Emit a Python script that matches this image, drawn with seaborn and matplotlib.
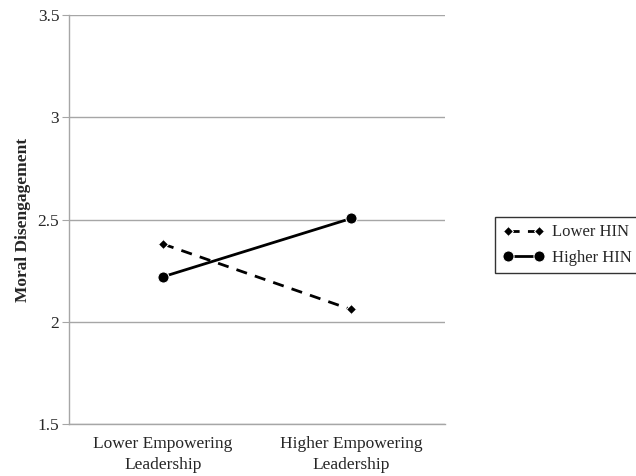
import pandas as pd
import matplotlib.pyplot as plt
import seaborn as sns

# Values
categories = ["Lower Empowering\nLeadership", "Higher Empowering\nLeadership"]
lower_hin = [2.38, 2.06]
higher_hin = [2.22, 2.505]
y_ticks = [1.5, 2, 2.5, 3, 3.5]
y_tick_labels = ["1.5", "2", "2.5", "3", "3.5"]

df = pd.DataFrame({
    "x": [0, 1, 0, 1],
    "value": lower_hin + higher_hin,
    "group": ["Lower HIN"] * 2 + ["Higher HIN"] * 2,
})

sns.set_style("white")
plt.rcParams["font.family"] = ["Liberation Serif", "DejaVu Serif"]

fig = plt.figure(figsize=(6.36, 4.76), dpi=100)
ax = fig.add_axes([69 / 636, 1 - 424 / 476, (445 - 69) / 636, (424 - 15) / 476])

grid_col = "#a6a6a6"
for y in y_ticks:
    ax.axhline(y, color=grid_col, lw=1, zorder=0)

sns.lineplot(data=df[df["group"] == "Lower HIN"], x="x", y="value", color="black",
             lw=2, marker="D", markersize=5, linestyle=(0, (4, 3)), ax=ax,
             label="Lower HIN", zorder=3)
sns.lineplot(data=df[df["group"] == "Higher HIN"], x="x", y="value", color="black",
             lw=2, marker="o", markersize=8, ax=ax, label="Higher HIN", zorder=3)

ax.set_xlim(-0.5, 1.5)
ax.set_ylim(1.5, 3.5)
ax.set_yticks(y_ticks)
ax.set_yticklabels(y_tick_labels, fontsize=12.5)
ax.set_xticks([0, 1])
ax.set_xticklabels(categories, fontsize=12.5, linespacing=1.4)
ax.set_xticks([-0.5, 0.5, 1.5], minor=True)
ax.tick_params(axis="x", which="major", length=0, pad=9)
ax.tick_params(axis="x", which="minor", length=5, color=grid_col, direction="out")
ax.tick_params(axis="y", length=5, color=grid_col, direction="out", left=True, pad=2)
ax.set_xlabel("")
ax.set_ylabel("Moral Disengagement", fontsize=12.5, fontweight="bold", labelpad=5)

for side in ["top", "right"]:
    ax.spines[side].set_visible(False)
for side in ["left", "bottom"]:
    ax.spines[side].set_color(grid_col)
    ax.spines[side].set_linewidth(1)

leg = ax.legend(loc="center left", bbox_to_anchor=(495 / 636, 1 - 245 / 476),
                bbox_transform=fig.transFigure, frameon=True, fancybox=False,
                fontsize=12, numpoints=2, handlelength=2.5, borderpad=0.45,
                labelspacing=0.55, handletextpad=0.5, borderaxespad=0)
leg.get_frame().set_edgecolor("black")
leg.get_frame().set_linewidth(1)

fig.savefig("out.png", dpi=100)
